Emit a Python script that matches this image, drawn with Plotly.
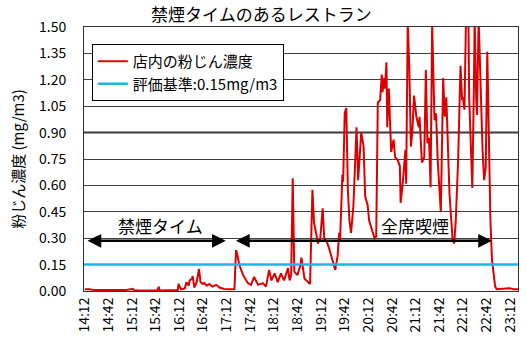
import plotly.graph_objects as go

# elapsed minutes since 14:12
minutes = [0, 6, 13, 32, 51, 61, 63, 92, 94, 95, 118, 119, 122, 127, 129, 132, 133, 136, 137, 139,
           142, 145, 147, 150, 152, 155, 158, 162, 167, 171, 177, 184, 190, 192, 194, 196, 201, 207, 211, 215,
           220, 226, 230, 234, 237, 241, 245, 249, 253, 258, 260, 262, 264, 266, 270, 274, 275, 279, 283, 286,
           289, 291, 294, 296, 299, 302, 304, 308, 310, 315, 318, 321, 323, 324, 327, 328, 330, 332, 334, 336,
           338, 341, 343, 345, 347, 349, 351, 354, 356, 359, 361, 365, 368, 370, 372, 375, 377, 378, 380, 381,
           383, 384, 386, 389, 392, 394, 397, 400, 401, 404, 407, 408, 410, 412, 414, 416, 418, 421, 424, 425,
           428, 431, 433, 435, 437, 439, 441, 444, 446, 448, 450, 452, 455, 457, 459, 461, 463, 467, 469, 471,
           474, 477, 479, 480, 482, 484, 487, 488, 490, 492, 494, 495, 497, 498, 500, 502, 504, 505, 507, 509,
           511, 513, 515, 517, 521, 523, 532, 539, 545, 550]
dust = [0.010, 0.010, 0.005, 0.003, 0.005, 0.012, 0.003, 0.003, 0.024, 0.003, 0.005, 0.040, 0.010, 0.015, 0.050, 0.030, 0.060, 0.070, 0.085, 0.020,
        0.050, 0.125, 0.050, 0.040, 0.045, 0.030, 0.040, 0.025, 0.035, 0.020, 0.012, 0.010, 0.010, 0.233, 0.200, 0.150, 0.090, 0.045, 0.035, 0.080,
        0.035, 0.045, 0.025, 0.120, 0.060, 0.100, 0.050, 0.100, 0.060, 0.130, 0.060, 0.090, 0.640, 0.110, 0.090, 0.150, 0.190, 0.070, 0.050, 0.040,
        0.575, 0.390, 0.320, 0.270, 0.300, 0.470, 0.300, 0.270, 0.245, 0.175, 0.120, 0.200, 0.330, 0.280, 0.660, 0.620, 1.010, 1.040, 0.575, 0.400,
        0.330, 0.480, 0.730, 0.930, 0.630, 0.800, 0.900, 0.820, 0.535, 0.490, 0.400, 0.340, 0.300, 0.310, 1.070, 1.085, 1.230, 1.130, 1.210, 1.150,
        1.300, 0.930, 1.150, 0.790, 0.860, 0.760, 0.745, 0.710, 0.500, 0.630, 0.800, 0.610, 1.520, 1.270, 0.820, 0.915, 1.110, 0.990, 0.930, 0.990,
        0.730, 0.760, 1.255, 0.840, 0.870, 0.590, 1.520, 0.970, 1.010, 0.745, 0.575, 0.450, 1.210, 0.990, 1.100, 0.800, 0.555, 0.290, 0.270, 0.400,
        0.745, 1.280, 1.085, 1.100, 1.030, 1.550, 1.550, 1.100, 0.800, 0.585, 1.160, 1.550, 1.085, 1.000, 1.550, 1.210, 0.875, 0.800, 0.630, 0.700,
        1.360, 0.780, 0.400, 0.175, 0.025, 0.010, 0.012, 0.015, 0.010, 0.010]

standard = 0.15
tick_minutes = list(range(0, 541, 30))
tick_labels = ["14:12", "14:42", "15:12", "15:42", "16:12", "16:42", "17:12", "17:42", "18:12", "18:42",
               "19:12", "19:42", "20:12", "20:42", "21:12", "21:42", "22:12", "22:42", "23:12"]
y_ticks = [0, 0.15, 0.30, 0.45, 0.60, 0.75, 0.90, 1.05, 1.20, 1.35, 1.50]

# periods: non-smoking and all smoking (minutes)
nonsmoking = (1.5, 179)
smoking = (190, 517)
arrow_level = 0.285

FONT = "Noto Sans CJK JP"

fig = go.Figure()
fig.add_trace(go.Scatter(x=minutes, y=dust, mode="lines", name="店内の粉じん濃度",
                         line=dict(color="#DD0000", width=2)))
fig.add_trace(go.Scatter(x=[minutes[0] - 1, minutes[-1]], y=[standard, standard], mode="lines",
                         name="評価基準:0.15mg/m3", line=dict(color="#1EB4E6", width=2.5)))

fig.add_shape(type="line", xref="paper", yref="y", x0=0, x1=1, y0=0.90, y1=0.90,
              line=dict(color="#333333", width=2), layer="below")

for (a, b) in (nonsmoking, smoking):
    fig.add_annotation(x=b, y=arrow_level, ax=a, ay=arrow_level, xref="x", yref="y",
                       axref="x", ayref="y", showarrow=True, arrowhead=2, startarrowhead=2,
                       arrowside="end+start", arrowsize=1.1, startarrowsize=1.1,
                       arrowwidth=2.5, arrowcolor="black", text="")

fig.add_annotation(x=96, y=0.375, text="禁煙タイム", showarrow=False,
                   font=dict(family=FONT, size=17, color="black"))
fig.add_annotation(x=419, y=0.37, text="全席喫煙", showarrow=False,
                   font=dict(family=FONT, size=17, color="black"))

fig.update_layout(
    width=526, height=348,
    margin=dict(l=84, r=8, t=27, b=57),
    paper_bgcolor="white", plot_bgcolor="white",
    font=dict(family=FONT, color="black"),
    title=dict(text="禁煙タイムのあるレストラン", x=0.497, xanchor="center",
               y=1 - 15 / 348, yanchor="middle", font=dict(family=FONT, size=17, color="black")),
    showlegend=True,
    legend=dict(x=0.018, y=0.936, xanchor="left", yanchor="top", bgcolor="white",
                bordercolor="black", borderwidth=1, font=dict(family=FONT, size=15, color="black"),
                itemwidth=30, tracegroupgap=0),
    xaxis=dict(range=[-1, 550], tickmode="array", tickvals=tick_minutes, ticktext=tick_labels,
               tickangle=-90, showgrid=False, zeroline=False, showline=True, linecolor="#333333",
               linewidth=1, mirror=True, ticks="", tickfont=dict(family=FONT, size=14, color="black")),
    yaxis=dict(range=[0, 1.5], tickmode="array", tickvals=y_ticks,
               ticktext=[f"{v:.2f}" for v in y_ticks], showgrid=True, gridcolor="#404040",
               gridwidth=1, zeroline=False, showline=True, linecolor="#333333", linewidth=1,
               mirror=True, ticks="", ticklabelstandoff=14,
               tickfont=dict(family=FONT, size=14, color="black"),
               title=dict(text="粉じん濃度 (mg/m3)", font=dict(family=FONT, size=15, color="black"),
                          standoff=10)),
)

fig.write_html("out.html")
